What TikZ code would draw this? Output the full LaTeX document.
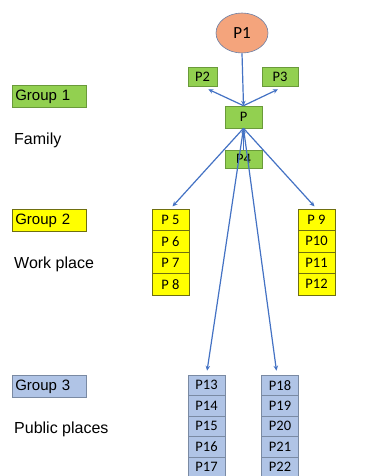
\documentclass[tikz,border=0pt]{standalone}
\usepackage{fontspec}
\setmainfont{Carlito}
\newfontfamily\arialf{Liberation Sans}
\usetikzlibrary{shapes.geometric,arrows.meta}
\definecolor{pgreen}{HTML}{92D050}
\definecolor{pgreenb}{HTML}{6A9A3A}
\definecolor{pyellow}{HTML}{FFFF00}
\definecolor{pyellowb}{HTML}{6F6F10}
\definecolor{pblue}{HTML}{B0C4E6}
\definecolor{pblueb}{HTML}{7A8AA3}
\definecolor{porange}{HTML}{F4A47C}
\definecolor{pellb}{HTML}{6A7FA6}
\definecolor{parrow}{HTML}{4472C4}
\begin{document}
\begin{tikzpicture}[x=1pt,y=-1pt,
  plabel/.style={inner sep=0pt, font=\fontsize{14.5}{16}\selectfont},
  gbox/.style={plabel, draw=pgreenb, fill=pgreen, line width=0.6pt},
  ybox/.style={plabel, draw=pyellowb, fill=pyellow, line width=0.7pt, minimum width=37pt, minimum height=21.5pt},
  bbox/.style={plabel, draw=pblueb, fill=pblue, line width=0.7pt, minimum width=37pt, minimum height=20.5pt},
  grp/.style={inner xsep=3pt, inner ysep=0pt, text width=68pt, align=left, minimum height=22pt, line width=0.6pt, font=\arialf\fontsize{15}{17}\selectfont},
  side/.style={inner sep=0pt, anchor=west, font=\arialf\fontsize{16}{18}\selectfont},
  conn/.style={draw=parrow, line width=1.2pt, -{Stealth[length=5pt,width=4.5pt]}}
]
\clip (0,0) rectangle (368,476);
\fill[white] (0,0) rectangle (368,476);

% left column
\node[grp, draw=pgreenb, fill=pgreen, anchor=west] (g1) at (12,96.5) {Group 1};
\node[side] (fam) at (14,140) {Family};
\node[grp, draw=pyellowb, fill=pyellow, anchor=west] (g2) at (12,220.5) {Group 2};
\node[side] (work) at (14,264) {Work place};
\node[grp, draw=pblueb, fill=pblue, anchor=west] (g3) at (12,386.5) {Group 3};
\node[side] (pub) at (14,429) {Public places};

% family
\node[ellipse, draw=pellb, fill=porange, line width=0.6pt, minimum width=52pt, minimum height=40pt, inner sep=0pt, font=\fontsize{17}{19}\selectfont] (P1) at (242,33) {P1};
\node[gbox, minimum width=29pt, minimum height=19pt] (P2) at (202.5,76.5) {P2};
\node[gbox, minimum width=36pt, minimum height=19pt] (P3) at (280,76.5) {P3};
\node[gbox, minimum width=37pt, minimum height=22pt] (P) at (243.5,117) {P};
\node[gbox, minimum width=37pt, minimum height=18pt] (P4) at (243.5,159) {P4};

% work place
\node[ybox] (P5) at (170.5,219.75) {P 5};
\node[ybox] (P6) at (170.5,241.25) {P 6};
\node[ybox] (P7) at (170.5,262.75) {P 7};
\node[ybox] (P8) at (170.5,284.25) {P 8};
\node[ybox] (P9) at (316.5,219.75) {P 9};
\node[ybox] (P10) at (316.5,241.25) {P10};
\node[ybox] (P11) at (316.5,262.75) {P11};
\node[ybox] (P12) at (316.5,284.25) {P12};

% public places
\node[bbox] (P13) at (206.5,385.25) {P13};
\node[bbox] (P14) at (206.5,405.75) {P14};
\node[bbox] (P15) at (206.5,426.25) {P15};
\node[bbox] (P16) at (206.5,446.75) {P16};
\node[bbox] (P17) at (206.5,467.25) {P17};
\node[bbox] (P18) at (280,385.25) {P18};
\node[bbox] (P19) at (280,405.75) {P19};
\node[bbox] (P20) at (280,426.25) {P20};
\node[bbox] (P21) at (280,446.75) {P21};
\node[bbox] (P22) at (280,467.25) {P22};

% connectors
\draw[conn] (P1.south) -- (P.north);
\draw[conn] (P.north) -- ([xshift=-9pt,yshift=-3pt]P2.south east);
\draw[conn] (P.north) -- ([xshift=-2pt,yshift=-3pt]P3.south);
\draw[conn] (P4.north) -- (P.south);
\draw[conn, shorten >=3pt] (P.south) -- (P5.north);
\draw[conn, shorten >=3pt] (P.south) -- (P9.north);
\draw[conn, shorten >=4pt] (P.south) -- (P13.north);
\draw[conn, shorten >=4pt] (P.south) -- ([xshift=-3pt]P18.north);
\end{tikzpicture}
\end{document}
